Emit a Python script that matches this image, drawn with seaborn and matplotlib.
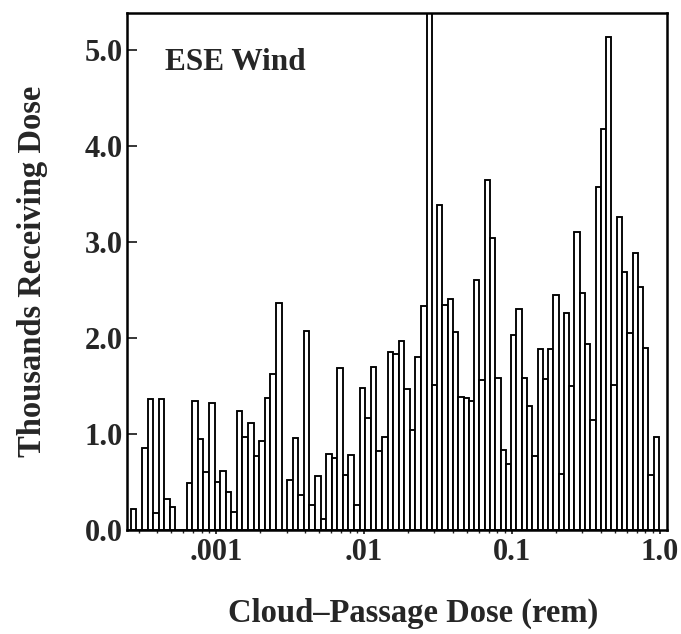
import numpy as np
import pandas as pd
import matplotlib
matplotlib.use("Agg")
import matplotlib.pyplot as plt
import seaborn as sns

# Histogram (thousands of people per log-dose bin)
heights = [
    0.22, 0.00, 0.86, 1.37, 0.18, 1.37, 0.32, 0.24, 0.00, 0.00,
    0.49, 1.34, 0.95, 0.60, 1.32, 0.50, 0.62, 0.40, 0.19, 1.24,
    0.97, 1.12, 0.77, 0.93, 1.38, 1.63, 2.37, 0.00, 0.52, 0.96,
    0.36, 2.08, 0.26, 0.56, 0.12, 0.79, 0.75, 1.69, 0.57, 0.78,
    0.26, 1.48, 1.17, 1.70, 0.82, 0.97, 1.86, 1.84, 1.97, 1.47,
    1.04, 1.80, 2.34,
    5.60, 1.51, 3.39, 2.35, 2.41, 2.06, 1.39, 1.38, 1.35, 2.61,
    1.56, 3.65, 3.04, 1.59, 0.83, 0.69, 2.03, 2.30, 1.58, 1.29,
    0.77, 1.89, 1.57, 1.89, 2.45, 0.58, 2.26, 1.50, 3.11, 2.47,
    1.94, 1.15, 3.58, 4.18, 5.14, 1.51, 3.26, 2.69, 2.05, 2.89,
    2.53, 1.90, 0.57, 0.97,
]
# bin layout as printed: two runs of equal-width log bins
segment_log_edges = [-3.575, -1.576, -0.005]   # log10(dose in rem)
segment_bin_counts = [53, 44]
x_ticks = [0.001, 0.01, 0.1, 1.0]
x_tick_labels = [".001", ".01", "0.1", "1.0"]
y_ticks = [0, 1, 2, 3, 4, 5]
y_tick_labels = ["0.0", "1.0", "2.0", "3.0", "4.0", "5.0"]

sns.set_style("ticks")
plt.rcParams["font.family"] = ["Liberation Serif", "DejaVu Serif"]
plt.rcParams["font.weight"] = "bold"

fig = plt.figure(figsize=(6.81, 6.34), dpi=100)
ax = fig.add_axes([0.1865, 0.164, 0.7925, 0.8155])

start = 0
for lo, hi, n in zip(segment_log_edges[:-1], segment_log_edges[1:], segment_bin_counts):
    edges = np.linspace(lo, hi, n + 1)
    centers = 10 ** ((edges[:-1] + edges[1:]) / 2)
    df = pd.DataFrame({"dose": centers, "thousands": heights[start:start + n]})
    sns.histplot(data=df, x="dose", weights="thousands", bins=n,
                 binrange=(lo, hi), log_scale=True,
                 color="white", alpha=1.0, edgecolor="black", linewidth=1.35, ax=ax)
    start += n

ax.set_xlim(10 ** -3.601, 10 ** 0.047)
ax.set_ylim(0, 5.39)
ax.set_xticks(x_ticks)
ax.set_xticklabels(x_tick_labels)
ax.set_yticks(y_ticks)
ax.set_yticklabels(y_tick_labels)
ax.tick_params(axis="y", which="major", direction="in", length=7, width=1.3,
               labelsize=22, pad=3)
ax.tick_params(axis="x", which="major", direction="out", length=3, width=1.3,
               labelsize=22, pad=3)
ax.tick_params(axis="x", which="minor", direction="out", length=2, width=1.0)
for lab in ax.get_xticklabels() + ax.get_yticklabels():
    lab.set_fontweight("bold")
for s in ax.spines.values():
    s.set_visible(True)
    s.set_linewidth(1.8)
    s.set_color("black")

ax.set_xlabel("Cloud\u2013Passage Dose (rem)", fontsize=23.5, fontweight="bold",
              labelpad=22, x=0.53)
ax.set_ylabel("Thousands Receiving Dose", fontsize=23.5, fontweight="bold", labelpad=26)
ax.text(0.07, 0.905, "ESE Wind", transform=ax.transAxes, fontsize=22.5,
        fontweight="bold", ha="left", va="center")

fig.savefig("out.png", dpi=100)
